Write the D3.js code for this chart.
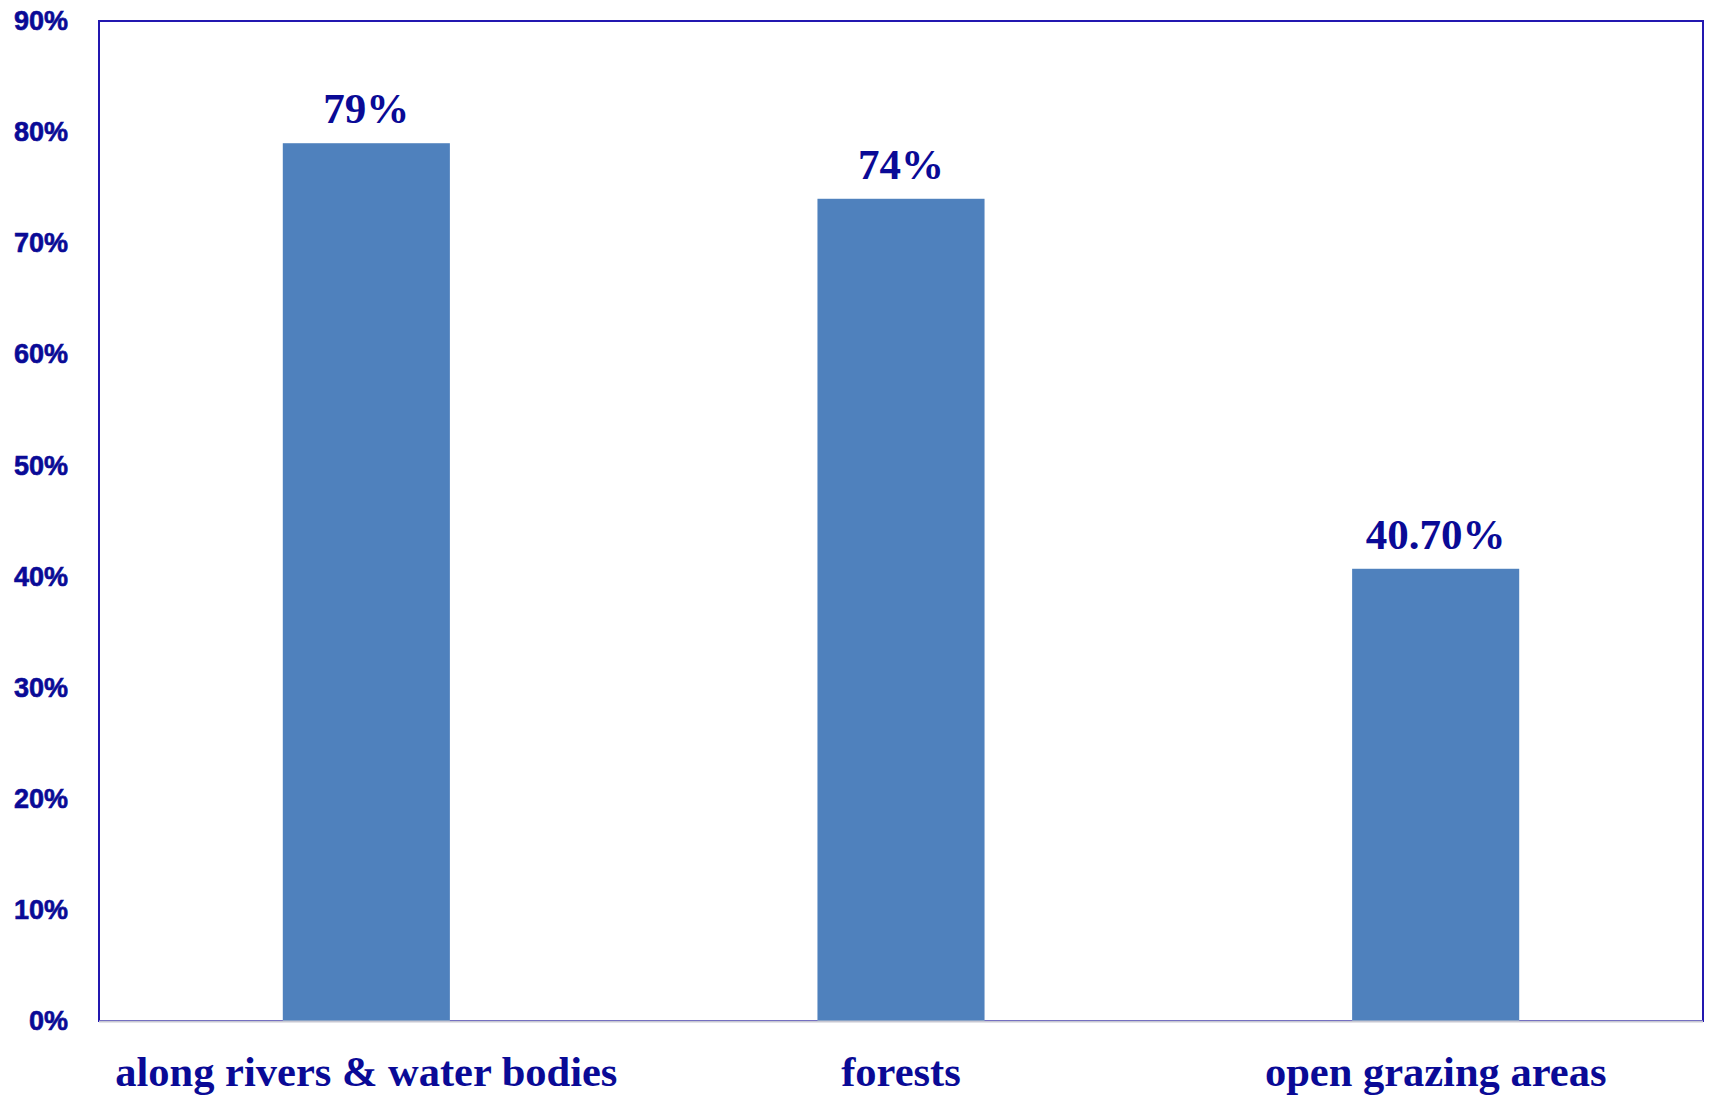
<!DOCTYPE html>
<html>
<head>
<meta charset="utf-8">
<script src="https://cdn.jsdelivr.net/npm/d3@7"></script>
<style>
  html, body { margin: 0; padding: 0; background: #ffffff; }
  svg { display: block; }
</style>
</head>
<body>
<svg id="chart" width="1712" height="1096"></svg>
<script>
const categories = ["along rivers & water bodies", "forests", "open grazing areas"];
const values = [79, 74, 40.7];
const valueLabels = ["79%", "74%", "40.70%"];
const yTicks = [0, 10, 20, 30, 40, 50, 60, 70, 80, 90];
const yTickLabels = ["0%", "10%", "20%", "30%", "40%", "50%", "60%", "70%", "80%", "90%"];

const W = 1712, H = 1096;
const margin = { left: 99, right: 9, top: 21, bottom: 75 };
const innerW = W - margin.left - margin.right;
const innerH = H - margin.top - margin.bottom;

const svg = d3.select("#chart");
const g = svg.append("g").attr("transform", `translate(${margin.left},${margin.top})`);

const x = d3.scaleBand().domain(categories).range([0, innerW]).paddingInner(0.6875).paddingOuter(0.34375);
const y = d3.scaleLinear().domain([0, 90]).range([innerH, 0]);

const textColor = "#0a0a96";

// plot area border
g.append("rect")
  .attr("x", 0).attr("y", 0)
  .attr("width", innerW).attr("height", innerH)
  .attr("fill", "none")
  .attr("stroke", "#2318b0")
  .attr("stroke-width", 2);

// bars
g.selectAll("rect.bar")
  .data(values)
  .enter().append("rect")
  .attr("class", "bar")
  .attr("x", (d, i) => x(categories[i]))
  .attr("y", d => y(d))
  .attr("width", x.bandwidth())
  .attr("height", d => y(0) - y(d))
  .attr("fill", "#4f81bd");

// bottom axis (grey)
g.append("line")
  .attr("x1", 0).attr("x2", innerW)
  .attr("y1", innerH + 0.5).attr("y2", innerH + 0.5)
  .attr("stroke", "#c8c8d2")
  .attr("stroke-width", 2);

// y axis tick labels
const yAxis = d3.axisLeft(y).tickValues(yTicks).tickFormat((d, i) => yTickLabels[i]).tickSize(0).tickPadding(31);
const ya = g.append("g").call(yAxis);
ya.select(".domain").remove();
ya.selectAll("text")
  .attr("fill", textColor)
  .attr("stroke", textColor)
  .attr("stroke-width", 0.6)
  .style("font-family", "'Liberation Sans', Arial, sans-serif")
  .style("font-weight", "bold")
  .style("font-size", "27px");

// x axis category labels
const xAxis = d3.axisBottom(x).tickSize(0).tickPadding(0);
const xa = g.append("g").attr("transform", `translate(0,${innerH})`).call(xAxis);
xa.select(".domain").remove();
xa.selectAll("text")
  .attr("dy", null)
  .attr("y", 65)
  .attr("fill", textColor)
  .style("font-family", "'Liberation Serif', 'Times New Roman', serif")
  .style("font-weight", "bold")
  .style("font-size", "42.5px");

// value labels
g.selectAll("text.val")
  .data(values)
  .enter().append("text")
  .attr("class", "val")
  .attr("x", (d, i) => x(categories[i]) + x.bandwidth() / 2)
  .attr("y", d => y(d) - 20)
  .attr("text-anchor", "middle")
  .attr("fill", textColor)
  .style("font-family", "'Liberation Serif', 'Times New Roman', serif")
  .style("font-weight", "bold")
  .style("font-size", "43px")
  .text((d, i) => valueLabels[i]);
</script>
</body>
</html>
